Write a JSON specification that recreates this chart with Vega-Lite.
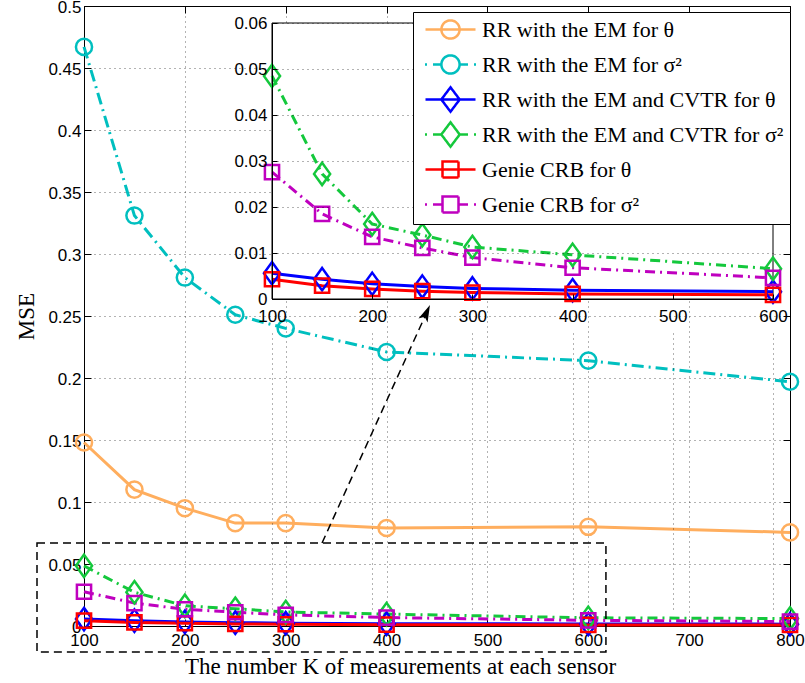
{
  "$schema": "https://vega.github.io/schema/vega-lite/v6.json",
  "width": 706,
  "height": 620,
  "autosize": {"type": "none"},
  "padding": {"left": 84, "top": 6, "right": 15, "bottom": 57},
  "background": "white",
  "config": {
    "view": {"stroke": null},
    "axis": {
      "labelFont": "Liberation Sans",
      "labelFontSize": 17,
      "labelColor": "black",
      "labelFlush": false,
      "domainColor": "black",
      "tickColor": "black",
      "gridColor": "black",
      "gridDash": [1, 4],
      "gridOpacity": 0.6,
      "titleFont": "Liberation Serif",
      "titleFontSize": 23,
      "titleFontWeight": "normal",
      "titleColor": "black"
    }
  },
  "datasets": {
    "mse": [
      {"K": 100, "series": "RR with the EM for θ", "mse": 0.148},
      {"K": 150, "series": "RR with the EM for θ", "mse": 0.110},
      {"K": 200, "series": "RR with the EM for θ", "mse": 0.095},
      {"K": 250, "series": "RR with the EM for θ", "mse": 0.083},
      {"K": 300, "series": "RR with the EM for θ", "mse": 0.083},
      {"K": 400, "series": "RR with the EM for θ", "mse": 0.079},
      {"K": 600, "series": "RR with the EM for θ", "mse": 0.080},
      {"K": 800, "series": "RR with the EM for θ", "mse": 0.0755},
      {"K": 100, "series": "RR with the EM for σ²", "mse": 0.467},
      {"K": 150, "series": "RR with the EM for σ²", "mse": 0.331},
      {"K": 200, "series": "RR with the EM for σ²", "mse": 0.281},
      {"K": 250, "series": "RR with the EM for σ²", "mse": 0.251},
      {"K": 300, "series": "RR with the EM for σ²", "mse": 0.240},
      {"K": 400, "series": "RR with the EM for σ²", "mse": 0.221},
      {"K": 600, "series": "RR with the EM for σ²", "mse": 0.214},
      {"K": 800, "series": "RR with the EM for σ²", "mse": 0.197},
      {"K": 100, "series": "RR with the EM and CVTR for θ", "mse": 0.0056},
      {"K": 150, "series": "RR with the EM and CVTR for θ", "mse": 0.0043},
      {"K": 200, "series": "RR with the EM and CVTR for θ", "mse": 0.0033},
      {"K": 250, "series": "RR with the EM and CVTR for θ", "mse": 0.0027},
      {"K": 300, "series": "RR with the EM and CVTR for θ", "mse": 0.0023},
      {"K": 400, "series": "RR with the EM and CVTR for θ", "mse": 0.0019},
      {"K": 600, "series": "RR with the EM and CVTR for θ", "mse": 0.0016},
      {"K": 800, "series": "RR with the EM and CVTR for θ", "mse": 0.0015},
      {"K": 100, "series": "RR with the EM and CVTR for σ²", "mse": 0.0485},
      {"K": 150, "series": "RR with the EM and CVTR for σ²", "mse": 0.0272},
      {"K": 200, "series": "RR with the EM and CVTR for σ²", "mse": 0.0163},
      {"K": 250, "series": "RR with the EM and CVTR for σ²", "mse": 0.0139},
      {"K": 300, "series": "RR with the EM and CVTR for σ²", "mse": 0.0113},
      {"K": 400, "series": "RR with the EM and CVTR for σ²", "mse": 0.0096},
      {"K": 600, "series": "RR with the EM and CVTR for σ²", "mse": 0.0066},
      {"K": 800, "series": "RR with the EM and CVTR for σ²", "mse": 0.0060},
      {"K": 100, "series": "Genie CRB for θ", "mse": 0.0043},
      {"K": 150, "series": "Genie CRB for θ", "mse": 0.0029},
      {"K": 200, "series": "Genie CRB for θ", "mse": 0.0022},
      {"K": 250, "series": "Genie CRB for θ", "mse": 0.0017},
      {"K": 300, "series": "Genie CRB for θ", "mse": 0.0014},
      {"K": 400, "series": "Genie CRB for θ", "mse": 0.0011},
      {"K": 600, "series": "Genie CRB for θ", "mse": 0.0009},
      {"K": 800, "series": "Genie CRB for θ", "mse": 0.0008},
      {"K": 100, "series": "Genie CRB for σ²", "mse": 0.0276},
      {"K": 150, "series": "Genie CRB for σ²", "mse": 0.0185},
      {"K": 200, "series": "Genie CRB for σ²", "mse": 0.0135},
      {"K": 250, "series": "Genie CRB for σ²", "mse": 0.0111},
      {"K": 300, "series": "Genie CRB for σ²", "mse": 0.0090},
      {"K": 400, "series": "Genie CRB for σ²", "mse": 0.0068},
      {"K": 600, "series": "Genie CRB for σ²", "mse": 0.0046},
      {"K": 800, "series": "Genie CRB for σ²", "mse": 0.0036}
    ]
  },
  "data": {"name": "mse"},
  "layer": [
    {
      "layer": [
        {
          "transform": [{"filter": {"field": "series", "oneOf": ["RR with the EM for θ", "RR with the EM and CVTR for θ", "Genie CRB for θ"]}}],
          "mark": {"type": "line", "strokeWidth": 3},
          "encoding": {
            "x": {"field": "K", "type": "quantitative",
              "scale": {"domain": [100, 800], "nice": false, "zero": false},
              "axis": {"orient": "bottom", "values": [100, 200, 300, 400, 500, 600, 700, 800], "format": "d",
                "grid": true, "tickSize": -7, "labelPadding": 13,
                "title": "The number K of measurements at each sensor",
                "titleX": 316, "titleY": 47, "titleBaseline": "alphabetic", "titleAlign": "center"}},
            "y": {"field": "mse", "type": "quantitative",
              "scale": {"domain": [0, 0.5], "nice": false, "zero": false},
              "axis": {"orient": "left", "values": [0, 0.05, 0.1, 0.15, 0.2, 0.25, 0.3, 0.35, 0.4, 0.45, 0.5], "format": "~g",
                "grid": true, "tickSize": -7, "labelPadding": 10, "labelOffset": 1,
                "title": "MSE", "titleAngle": -90, "titleX": -51, "titleY": 310, "titleAlign": "center", "titleBaseline": "alphabetic"}},
            "color": {"field": "series", "type": "nominal",
              "scale": {
                "domain": ["RR with the EM for θ", "RR with the EM for σ²", "RR with the EM and CVTR for θ", "RR with the EM and CVTR for σ²", "Genie CRB for θ", "Genie CRB for σ²"],
                "range": ["#FFAE5E", "#00BFBF", "#0000FF", "#14C83C", "#FF0000", "#BF00BF"]},
              "legend": {
                "orient": "none", "legendX": 329, "legendY": 6, "title": null,
                "padding": 6, "rowPadding": 0, "gridAlign": "all", "symbolOffset": 20, "labelOffset": 20,
                "labelFont": "Liberation Serif", "labelFontSize": 22, "labelLimit": 500, "labelColor": "black",
                "fillColor": "white", "strokeColor": "black", "cornerRadius": 0,
                "symbolSize": 400, "symbolStrokeWidth": 2.5, "zindex": 2,
                "encode": {
                  "symbols": {
                    "update": {
                      "shape": {"signal": "indexof(datum.value,'Genie')>=0 ? (indexof(datum.value,'σ')>=0 ? 'M-2.55,0H-2.35M-1.75,0H-0.8M0.8,0H1.75M2.35,0H2.55M-0.8,-0.8H0.8V0.8H-0.8Z' : 'M-2.5,0H2.5M-0.8,-0.8H0.8V0.8H-0.8Z') : indexof(datum.value,'CVTR')>=0 ? (indexof(datum.value,'σ')>=0 ? 'M-2.55,0H-2.35M-1.75,0H-0.92M0.92,0H1.75M2.35,0H2.55M0,-1.22L0.92,0L0,1.22L-0.92,0Z' : 'M-2.5,0H2.5M0,-1.22L0.92,0L0,1.22L-0.92,0Z') : (indexof(datum.value,'σ')>=0 ? 'M-2.55,0H-2.35M-1.75,0H-0.91M0.91,0H1.75M2.35,0H2.55M0.91,0A0.91,0.91,0,1,1,-0.91,0A0.91,0.91,0,1,1,0.91,0Z' : 'M-2.5,0H2.5M0.91,0A0.91,0.91,0,1,1,-0.91,0A0.91,0.91,0,1,1,0.91,0Z')"},
                      "fill": {"value": "transparent"},
                      "stroke": {"scale": "color", "field": "value"},
                      "strokeWidth": {"value": 2.5},
                      "strokeDash": {"value": [1, 0]},
                      "opacity": {"value": 1},
                      "size": {"value": 400}
                    }
                  }
                }
              }}
          }
        },
        {
          "transform": [{"filter": {"field": "series", "equal": "RR with the EM for σ²"}}],
          "mark": {"type": "line", "strokeWidth": 3, "strokeDash": [12, 5, 2, 5]},
          "encoding": {
            "x": {"field": "K", "type": "quantitative", "axis": null},
            "y": {"field": "mse", "type": "quantitative", "axis": null},
            "color": {"field": "series", "type": "nominal"}
          }
        },
        {
          "transform": [{"filter": {"field": "series", "oneOf": ["RR with the EM and CVTR for σ²", "Genie CRB for σ²"]}}],
          "mark": {"type": "line", "strokeWidth": 3, "strokeDash": [10, 5, 2, 5]},
          "encoding": {
            "x": {"field": "K", "type": "quantitative", "axis": null},
            "y": {"field": "mse", "type": "quantitative", "axis": null},
            "color": {"field": "series", "type": "nominal"}
          }
        },
        {
          "transform": [{"filter": {"field": "series", "oneOf": ["RR with the EM for θ", "RR with the EM for σ²"]}}],
          "mark": {"type": "point", "shape": "circle", "filled": false, "strokeWidth": 2.5, "size": 260, "opacity": 1},
          "encoding": {
            "x": {"field": "K", "type": "quantitative",
              "axis": {"orient": "top", "values": [100, 200, 300, 400, 500, 600, 700, 800], "labels": false, "grid": false, "tickSize": -7, "title": null}},
            "y": {"field": "mse", "type": "quantitative",
              "axis": {"orient": "right", "values": [0, 0.05, 0.1, 0.15, 0.2, 0.25, 0.3, 0.35, 0.4, 0.45, 0.5], "labels": false, "grid": false, "tickSize": -7, "title": null}},
            "color": {"field": "series", "type": "nominal"}
          }
        },
        {
          "transform": [{"filter": {"field": "series", "oneOf": ["RR with the EM and CVTR for θ", "RR with the EM and CVTR for σ²"]}}],
          "mark": {"type": "point", "shape": "M0,-1.39L1,0L0,1.39L-1,0Z", "filled": false, "strokeWidth": 2.5, "size": 260, "opacity": 1},
          "encoding": {
            "x": {"field": "K", "type": "quantitative", "axis": null},
            "y": {"field": "mse", "type": "quantitative", "axis": null},
            "color": {"field": "series", "type": "nominal"}
          }
        },
        {
          "transform": [{"filter": {"field": "series", "oneOf": ["Genie CRB for θ", "Genie CRB for σ²"]}}],
          "mark": {"type": "point", "shape": "M-0.88,-0.88H0.88V0.88H-0.88Z", "filled": false, "strokeWidth": 2.5, "size": 260, "opacity": 1},
          "encoding": {
            "x": {"field": "K", "type": "quantitative", "axis": null},
            "y": {"field": "mse", "type": "quantitative", "axis": null},
            "color": {"field": "series", "type": "nominal"}
          }
        },
        {
          "data": {"values": [{}]},
          "mark": {"type": "rect", "filled": false, "stroke": "black", "strokeDash": [8, 5], "strokeWidth": 1.5},
          "encoding": {
            "x": {"datum": 53.4, "axis": null},
            "x2": {"datum": 617.5},
            "y": {"datum": 0.0669, "axis": null},
            "y2": {"datum": -0.021}
          }
        },
        {
          "data": {"values": [{}]},
          "mark": {"type": "rule", "stroke": "black", "strokeDash": [8, 5], "strokeWidth": 1.5},
          "encoding": {
            "x": {"datum": 336, "axis": null},
            "x2": {"datum": 441},
            "y": {"datum": 0.0669, "axis": null},
            "y2": {"datum": 0.255}
          }
        },
        {
          "data": {"values": [{}]},
          "mark": {"type": "point", "shape": "M0,0L-0.5,1.7L0,1.3L0.5,1.7Z", "filled": true, "color": "black", "size": 400, "angle": 24, "opacity": 1},
          "encoding": {
            "x": {"datum": 443, "axis": null},
            "y": {"datum": 0.2589, "axis": null}
          }
        }
      ],
      "resolve": {"axis": {"x": "independent", "y": "independent"}}
    },
    {
      "layer": [
        {
          "data": {"values": [{}]},
          "mark": {"type": "rect", "fill": "white", "stroke": "black", "strokeWidth": 1},
          "encoding": {
            "x": {"datum": 100},
            "x2": {"datum": 600},
            "y": {"datum": 0},
            "y2": {"datum": 0.06}
          }
        },
        {
          "transform": [
            {"filter": {"field": "series", "oneOf": ["RR with the EM and CVTR for θ", "Genie CRB for θ"]}},
            {"filter": "datum.K <= 600"}
          ],
          "mark": {"type": "line", "strokeWidth": 3},
          "encoding": {
            "x": {"field": "K", "type": "quantitative",
              "scale": {"domain": [100, 600], "range": [188, 689], "nice": false, "zero": false},
              "axis": {"orient": "bottom", "offset": -327, "values": [100, 200, 300, 400, 500, 600], "format": "d",
                "grid": true, "tickSize": -5, "labelPadding": 14, "title": null, "zindex": 1}},
            "y": {"field": "mse", "type": "quantitative",
              "scale": {"domain": [0, 0.06], "range": [293, 17], "nice": false, "zero": false},
              "axis": {"orient": "left", "offset": -188, "values": [0, 0.01, 0.02, 0.03, 0.04, 0.05, 0.06], "format": "~g",
                "grid": true, "tickSize": -5, "labelPadding": 10, "title": null, "zindex": 1}},
            "color": {"field": "series", "type": "nominal"}
          }
        },
        {
          "transform": [
            {"filter": {"field": "series", "oneOf": ["RR with the EM and CVTR for σ²", "Genie CRB for σ²"]}},
            {"filter": "datum.K <= 600"}
          ],
          "mark": {"type": "line", "strokeWidth": 3, "strokeDash": [10, 5, 2, 5]},
          "encoding": {
            "x": {"field": "K", "type": "quantitative"},
            "y": {"field": "mse", "type": "quantitative"},
            "color": {"field": "series", "type": "nominal"}
          }
        },
        {
          "transform": [
            {"filter": {"field": "series", "oneOf": ["RR with the EM and CVTR for θ", "RR with the EM and CVTR for σ²"]}},
            {"filter": "datum.K <= 600"}
          ],
          "mark": {"type": "point", "shape": "M0,-1.39L1,0L0,1.39L-1,0Z", "filled": false, "strokeWidth": 2.5, "size": 260, "opacity": 1},
          "encoding": {
            "x": {"field": "K", "type": "quantitative"},
            "y": {"field": "mse", "type": "quantitative"},
            "color": {"field": "series", "type": "nominal"}
          }
        },
        {
          "transform": [
            {"filter": {"field": "series", "oneOf": ["Genie CRB for θ", "Genie CRB for σ²"]}},
            {"filter": "datum.K <= 600"}
          ],
          "mark": {"type": "point", "shape": "M-0.88,-0.88H0.88V0.88H-0.88Z", "filled": false, "strokeWidth": 2.5, "size": 260, "opacity": 1},
          "encoding": {
            "x": {"field": "K", "type": "quantitative"},
            "y": {"field": "mse", "type": "quantitative"},
            "color": {"field": "series", "type": "nominal"}
          }
        }
      ]
    }
  ],
  "resolve": {"scale": {"x": "independent", "y": "independent"}}
}
